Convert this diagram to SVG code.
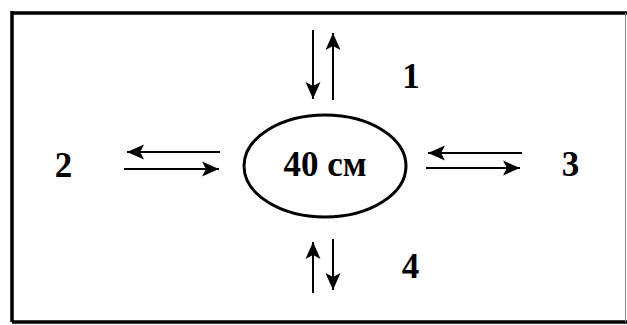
<svg xmlns="http://www.w3.org/2000/svg" width="627" height="325" viewBox="0 0 627 325">
<defs>
<style>
.lbl{font-family:"Liberation Serif","Times New Roman",serif;font-weight:bold;font-size:35px;fill:#000;text-anchor:middle}
.ln{stroke:#000;stroke-width:2;fill:none;marker-end:url(#ah)}
</style>
<marker id="ah" viewBox="-18 -8 19 16" markerWidth="19" markerHeight="16" refX="0" refY="0" orient="auto" markerUnits="userSpaceOnUse">
<path d="M0,0 L-17,-7.5 L-13,0 L-17,7.5 Z" fill="#000"/>
</marker>
</defs>
<rect x="0" y="0" width="627" height="325" fill="#fff"/>
<g id="frame">
<path d="M12,13 H627 M12,11 V322 M12,322 H627" stroke="#000" stroke-width="3.5" fill="none"/>
<line x1="625.5" y1="13" x2="625.5" y2="322" stroke="#888" stroke-width="1"/>
</g>
<g id="center">
<ellipse cx="325" cy="166" rx="81" ry="51" fill="none" stroke="#000" stroke-width="3"/>
<text class="lbl" x="325" y="176">40 см</text>
</g>
<g id="label1"><text class="lbl" x="411" y="88">1</text></g>
<g id="label2"><text class="lbl" x="63.5" y="177">2</text></g>
<g id="label3"><text class="lbl" x="570.5" y="176">3</text></g>
<g id="label4"><text class="lbl" x="410.5" y="278">4</text></g>
<g id="connectors">
<line class="ln" x1="313" y1="30" x2="313" y2="99"/>
<line class="ln" x1="333" y1="100" x2="333" y2="33"/>
<line class="ln" x1="220" y1="152" x2="127" y2="152"/>
<line class="ln" x1="124" y1="169" x2="219" y2="169"/>
<line class="ln" x1="522" y1="153" x2="428" y2="153"/>
<line class="ln" x1="426" y1="168" x2="520" y2="168"/>
<line class="ln" x1="313" y1="293" x2="313" y2="242"/>
<line class="ln" x1="333" y1="239" x2="333" y2="290"/>
</g>
</svg>
